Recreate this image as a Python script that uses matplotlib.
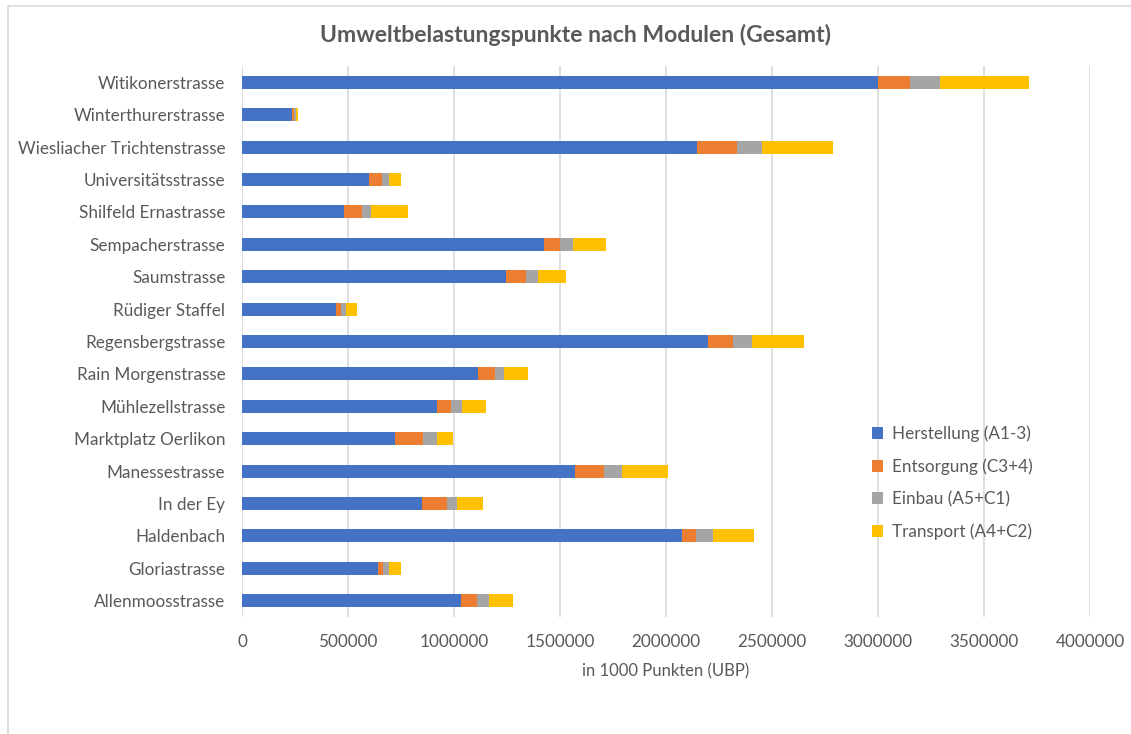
import matplotlib.pyplot as plt
from matplotlib.patches import Rectangle

strassen = ['Witikonerstrasse', 'Winterthurerstrasse', 'Wiesliacher Trichtenstrasse',
            'Universitätsstrasse', 'Shilfeld Ernastrasse', 'Sempacherstrasse', 'Saumstrasse',
            'Rüdiger Staffel', 'Regensbergstrasse', 'Rain Morgenstrasse', 'Mühlezellstrasse',
            'Marktplatz Oerlikon', 'Manessestrasse', 'In der Ey', 'Haldenbach',
            'Gloriastrasse', 'Allenmoosstrasse']

herstellung = [3000000, 234000, 2144000, 597000, 479000, 1423000, 1247000, 441600, 2197000,
               1115000, 919000, 724000, 1569000, 847000, 2077000, 639500, 1031000]
entsorgung = [151000, 9600, 191000, 64600, 85000, 79000, 93000, 26400, 119000,
              77000, 68000, 132000, 139000, 121000, 64000, 23500, 78000]
einbau = [140000, 9400, 120000, 31400, 44000, 61000, 57000, 20700, 91000,
          46000, 52000, 63000, 86000, 48000, 80000, 30000, 54000]
transport = [422000, 11000, 332000, 55000, 176000, 154000, 132000, 55100, 243000,
             112000, 111000, 77000, 217000, 121000, 192000, 58000, 116000]

serien = [('Herstellung (A1-3)', herstellung, '#4472c4'),
          ('Entsorgung (C3+4)', entsorgung, '#ed7d31'),
          ('Einbau (A5+C1)', einbau, '#a5a5a5'),
          ('Transport (A4+C2)', transport, '#ffc000')]

plt.rcParams['font.family'] = ['Lato', 'DejaVu Sans']
grau = '#595959'

fig = plt.figure(figsize=(11.31, 7.34), dpi=100)
ax = fig.add_axes([242 / 1131, 117 / 734, 848 / 1131, 551 / 734])

y = list(range(len(strassen)))[::-1]
links = [0] * len(strassen)
handles = []
for name, werte, farbe in serien:
    h = ax.barh(y, werte, left=links, height=0.4, color=farbe, label=name, zorder=3)
    handles.append(h)
    links = [a + b for a, b in zip(links, werte)]

ax.set_xlim(0, 4000000)
ax.set_ylim(-0.5, len(strassen) - 0.5)
ax.set_xticks(range(0, 4000001, 500000))
ax.set_xticklabels([str(v) for v in range(0, 4000001, 500000)])
ax.set_yticks(y)
ax.set_yticklabels(strassen)
ax.tick_params(axis='both', length=0, labelsize=12.3, colors=grau)
ax.tick_params(axis='y', pad=12)
ax.tick_params(axis='x', pad=12)
ax.grid(axis='x', color='#d9d9d9', linewidth=1.2, zorder=0)
for s in ax.spines.values():
    s.set_visible(False)

ax.set_xlabel('in 1000 Punkten (UBP)', fontsize=12, color=grau, labelpad=10)
fig.text(0.5085, 0.952, 'Umweltbelastungspunkte nach Modulen (Gesamt)', ha='center', va='center',
         fontsize=16.6, fontweight='bold', color=grau)

leg = ax.legend(handles=handles, loc='upper left', bbox_to_anchor=(0.735, 0.36), frameon=False,
                fontsize=12.3, labelcolor=grau, handlelength=0.65, handleheight=0.65,
                handletextpad=0.5, labelspacing=0.95, borderaxespad=0)

fig.patches.append(Rectangle((8 / 1131, -0.05), 1.2, 1.05 - 6 / 734, transform=fig.transFigure,
                             fill=False, edgecolor='#d9d9d9', linewidth=1.2))

fig.savefig('out.png', dpi=100)
